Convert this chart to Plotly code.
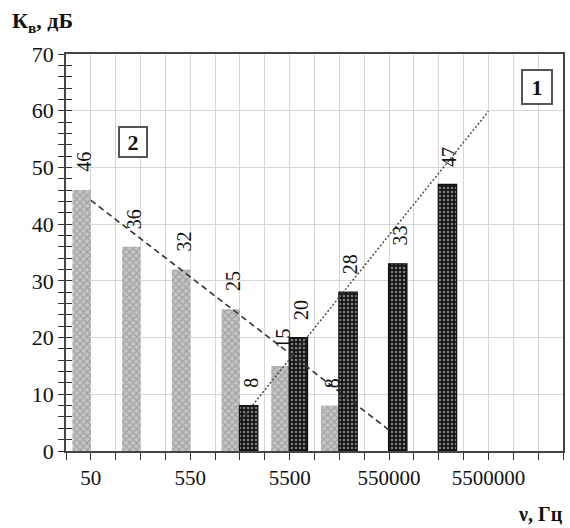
import plotly.graph_objects as go

# ---- data ----
categories = ["50", "", "550", "", "5500", "", "550000", "", "5500000", ""]
cat_pos = list(range(1, len(categories) + 1))

series2_x = [1, 2, 3, 4, 5, 6]
series2_y = [46, 36, 32, 25, 15, 8]

series1_x = [4, 5, 6, 7, 8]
series1_y = [8, 20, 28, 33, 47]

# trend lines
trend2_x = [1, 7]
trend2_y = [44.2, 3.7]
trend1_x = [4, 9]
trend1_y = [5.3, 59.9]

tick_x = [1, 3, 5, 7, 9]
tick_text = ["50", "550", "5500", "550000", "5500000"]

SERIF = "Liberation Serif"
W = 0.37
OFF2 = -0.37
OFF1 = -0.01

fig = go.Figure()

fig.add_trace(go.Bar(
    x=series2_x, y=series2_y, width=W, offset=OFF2,
    marker=dict(color="#b8b8b8", line=dict(width=0),
                pattern=dict(shape="x", fgcolor="#7c7c7c", bgcolor="#c4c4c4",
                             size=5, solidity=0.4, fillmode="overlay")),
    showlegend=False, hoverinfo="skip"))

fig.add_trace(go.Bar(
    x=series1_x, y=series1_y, width=W, offset=OFF1,
    marker=dict(color="#151515", line=dict(width=1.2, color="#111"),
                pattern=dict(shape=".", fgcolor="#e8e8e8", bgcolor="#151515",
                             size=4, solidity=0.3, fillmode="overlay")),
    showlegend=False, hoverinfo="skip"))

fig.add_trace(go.Scatter(
    x=trend2_x, y=trend2_y, mode="lines",
    line=dict(color="#333", width=1.6, dash="6px,4px"),
    showlegend=False, hoverinfo="skip"))
fig.add_trace(go.Scatter(
    x=trend1_x, y=trend1_y, mode="lines",
    line=dict(color="#444", width=1.4, dash="2px,2px"),
    showlegend=False, hoverinfo="skip"))

# invisible trace for the crossing ticks on y axis
fig.add_trace(go.Scatter(x=[1], y=[0], yaxis="y2", mode="markers",
                         marker=dict(opacity=0), showlegend=False, hoverinfo="skip"))

annotations = []
for xs, ys, off in [(series2_x, series2_y, OFF2), (series1_x, series1_y, OFF1)]:
    for xv, yv in zip(xs, ys):
        t = str(yv)
        annotations.append(dict(
            x=xv + off + W / 2, y=yv, xref="x", yref="y", text=t,
            textangle=-90, showarrow=False, xanchor="center", yanchor="middle",
            xshift=2, yshift=17 + 5.5 * len(t),
            font=dict(family=SERIF, size=20, color="#111")))

# numbered boxes
annotations.append(dict(x=1.84, y=54.5, xref="x", yref="y", text="<b>2</b>",
                        showarrow=False, font=dict(family=SERIF, size=22, color="#111"),
                        bordercolor="#555", borderwidth=2, borderpad=3, bgcolor="white",
                        width=20, height=22))
annotations.append(dict(x=9.98, y=64.2, xref="x", yref="y", text="<b>1</b>",
                        showarrow=False, font=dict(family=SERIF, size=22, color="#111"),
                        bordercolor="#555", borderwidth=2, borderpad=4, bgcolor="white",
                        width=20, height=24))

# axis titles
annotations.append(dict(x=-0.112, y=1.08, xref="paper", yref="paper",
                        text="<b>К<sub>в</sub>, дБ</b>", showarrow=False,
                        xanchor="left", yanchor="middle",
                        font=dict(family=SERIF, size=22, color="#111")))
annotations.append(dict(x=1.004, y=-0.159, xref="paper", yref="paper",
                        text="<b>ν, Гц</b>", showarrow=False,
                        xanchor="right", yanchor="middle",
                        font=dict(family=SERIF, size=20, color="#111")))

fig.update_layout(
    width=570, height=528,
    margin=dict(l=66, r=5, t=54, b=77),
    paper_bgcolor="white", plot_bgcolor="white",
    barmode="overlay",
    annotations=annotations,
    xaxis=dict(range=[0.5, 10.5], tickmode="array", tickvals=tick_x, ticktext=tick_text,
               ticks="outside", ticklen=7, tickcolor="#333",
               showgrid=True, gridcolor="#d6d6d6", gridwidth=1,
               showline=True, linecolor="#444", linewidth=1.5, mirror=True,
               zeroline=False,
               tickfont=dict(family=SERIF, size=21, color="#111"),
               minor=dict(tick0=0.5, dtick=0.5, ticks="outside", ticklen=7,
                          tickcolor="#333", showgrid=True, gridcolor="#d6d6d6")),
    yaxis=dict(range=[0, 70], dtick=10, ticks="outside", ticklen=6, tickcolor="#333",
               showgrid=True, gridcolor="#d6d6d6", gridwidth=1,
               showline=True, linecolor="#444", linewidth=1.5, mirror=True,
               zeroline=False,
               tickfont=dict(family=SERIF, size=22, color="#111"),
               minor=dict(dtick=2, ticks="outside", ticklen=6, tickcolor="#333",
                          showgrid=False)),
    yaxis2=dict(range=[0, 70], overlaying="y", side="left", dtick=2,
                ticks="inside", ticklen=6, tickcolor="#333",
                showticklabels=False, showgrid=False, zeroline=False, showline=False),
)

fig.write_html("out.html")
